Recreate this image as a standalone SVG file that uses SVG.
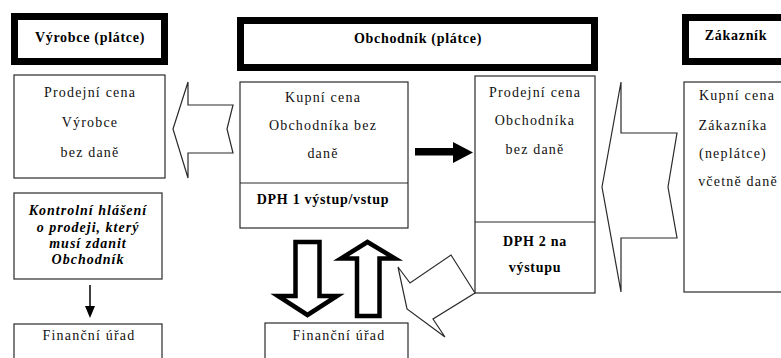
<svg xmlns="http://www.w3.org/2000/svg" width="781" height="358" viewBox="0 0 781 358">
<style>
.box{fill:#fff;stroke:#2a2a2a;stroke-width:1.2}
.hdr{fill:#fff;stroke:#000;stroke-width:7}
.div{stroke:#2a2a2a;stroke-width:1.2}
.t{font-size:14px;letter-spacing:1.2px;fill:#111;text-anchor:middle}
.b{font-size:14px;font-weight:bold;letter-spacing:0.7px;fill:#000;text-anchor:middle}
.bi{font-size:14px;font-weight:bold;font-style:italic;letter-spacing:1px;fill:#000;text-anchor:middle}
.big{fill:#fff;stroke:#2a2a2a;stroke-width:1.2;stroke-linejoin:miter}
.thick{fill:#fff;stroke:#000;stroke-width:4.5;stroke-linejoin:miter}
</style>
<rect width="781" height="358" fill="#fff"/>
<g font-family="Liberation Serif, Times New Roman, serif">

<g id="vyrobce-header">
<rect class="hdr" x="14.5" y="16.5" width="150" height="45"/>
<text class="b" x="90" y="42">Výrobce  (plátce)</text>
</g>
<g id="obchodnik-header">
<rect class="hdr" x="240.5" y="20.5" width="354" height="47"/>
<text class="b" x="418" y="43">Obchodník  (plátce)</text>
</g>
<g id="zakaznik-header">
<rect class="hdr" x="685.5" y="17.5" width="130" height="44"/>
<text class="b" x="736" y="40">Zákazník</text>
</g>

<g id="vyrobce-cena">
<rect class="box" x="14" y="75" width="151" height="103"/>
<text class="t" x="90" y="97">Prodejní  cena</text>
<text class="t" x="90" y="127">Výrobce</text>
<text class="t" x="90" y="157">bez daně</text>
</g>

<g id="obchodnik-kupni">
<rect class="box" x="240" y="82" width="168" height="146"/>
<line class="div" x1="240" y1="183" x2="408" y2="183"/>
<text class="t" x="323" y="102">Kupní cena</text>
<text class="t" x="323" y="130">Obchodníka bez</text>
<text class="t" x="323" y="158">daně</text>
<text class="b" x="323" y="204">DPH 1 výstup/vstup</text>
</g>

<g id="obchodnik-prodejni">
<rect class="box" x="475" y="76" width="120" height="217"/>
<line class="div" x1="475" y1="222" x2="595" y2="222"/>
<text class="t" x="535" y="97">Prodejní  cena</text>
<text class="t" x="535" y="125">Obchodníka</text>
<text class="t" x="535" y="154">bez daně</text>
<text class="b" x="535" y="246">DPH 2 na</text>
<text class="b" x="535" y="272">výstupu</text>
</g>

<g id="zakaznik-kupni">
<rect class="box" x="684" y="82" width="120" height="210"/>
<text class="t" x="737" y="100">Kupní cena</text>
<text class="t" x="733" y="130">Zákazníka</text>
<text class="t" x="733" y="158">(neplátce)</text>
<text class="t" x="738" y="186">včetně daně</text>
</g>

<g id="kontrolni-hlaseni">
<rect class="box" x="14" y="193" width="148" height="86"/>
<text class="bi" x="88" y="215">Kontrolní hlášení</text>
<text class="bi" x="88" y="232">o prodeji, který</text>
<text class="bi" x="88" y="248">musí zdanit</text>
<text class="bi" x="88" y="264">Obchodník</text>
</g>

<g id="financni-urad-1">
<rect class="box" x="14" y="324" width="148" height="45"/>
<text class="t" x="89" y="340">Finanční úřad</text>
</g>

<g id="financni-urad-2">
<rect class="box" x="265" y="323" width="143" height="46"/>
<text class="t" x="339" y="340">Finanční úřad</text>
</g>

</g>
<g id="connectors">
<polygon class="big" points="173,129 188,82 188,105 233,105 227,129 233,153 188,153 188,178"/>
<polygon class="big" points="602,187 621,82 621,133 677,133 668,187 677,238 621,238 621,292"/>
<polygon fill="#000" points="415,148 453,148 453,142 473,152.5 453,163 453,155.5 415,155.5"/>
<line x1="90" y1="285" x2="90" y2="308" stroke="#000" stroke-width="1.5"/>
<polygon fill="#000" points="85,306 95,306 90,318"/>
<polygon class="thick" points="295.5,242 319.5,242 319.5,296 337,296 307.5,315 278,296 295.5,296"/>
<polygon class="thick" points="367.5,242 395,258.5 379.5,258.5 379.5,316 357,316 357,258.5 341,258.5"/>
<polygon class="big" points="398,267 410,283 451,255 475,293 433,319 445,337 407,309"/>
</g>
</svg>
